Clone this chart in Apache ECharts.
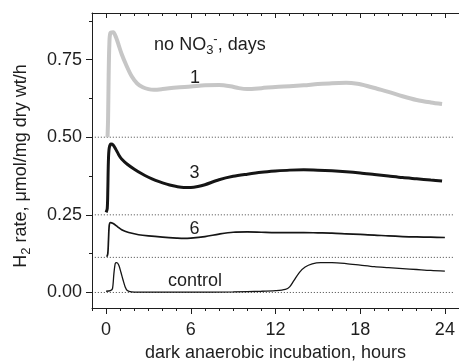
<!DOCTYPE html>
<html><head><meta charset="utf-8">
<script src="https://cdn.jsdelivr.net/npm/echarts@6/dist/echarts.min.js"></script>
<style>html,body{margin:0;padding:0;background:#fff}#c{width:459px;height:364px}</style>
</head><body><div id="c"></div>
<script>
// ---- data ----
const xTickLabels = [0, 6, 12, 18, 24];
const yTickLabels = [0, 0.25, 0.5, 0.75];
const yMinorTicks = [0.125, 0.375, 0.625, 0.875];
const xMinorTicks = [];
for (let h = -1; h <= 25; h++) { if (h % 6 !== 0) xMinorTicks.push(h); }

const day1 = [[0.1,0.50],[0.14,0.56],[0.18,0.70],[0.23,0.80],[0.3,0.835],[0.5,0.838],[0.7,0.822],[0.9,0.795],[1.1,0.768],[1.4,0.735],[1.8,0.697],[2.2,0.673],[2.6,0.661],[3.0,0.655],[3.4,0.653],[4.0,0.655],[5.0,0.660],[6.0,0.663],[7.0,0.667],[8.0,0.668],[8.8,0.664],[9.4,0.658],[10.0,0.655],[11.0,0.658],[12.0,0.662],[13.0,0.664],[14.0,0.667],[15.0,0.671],[16.0,0.674],[17.0,0.675],[17.8,0.672],[18.5,0.665],[19.2,0.656],[20.0,0.646],[21.0,0.632],[22.0,0.620],[23.0,0.612],[23.8,0.607]];
const day3 = [[0.0,0.258],[0.08,0.27],[0.12,0.33],[0.16,0.42],[0.22,0.465],[0.35,0.478],[0.5,0.475],[0.7,0.46],[0.9,0.443],[1.1,0.43],[1.5,0.413],[2.0,0.397],[2.5,0.383],[3.0,0.371],[3.5,0.361],[4.0,0.353],[4.5,0.346],[5.0,0.341],[5.5,0.338],[6.0,0.338],[6.5,0.341],[7.0,0.347],[8.0,0.363],[9.0,0.374],[10.0,0.381],[11.0,0.387],[12.0,0.391],[13.0,0.394],[14.0,0.395],[15.0,0.394],[16.0,0.392],[17.0,0.389],[18.0,0.385],[19.0,0.380],[20.0,0.375],[21.0,0.370],[22.0,0.366],[23.0,0.362],[23.8,0.359]];
const day6 = [[0.05,0.115],[0.12,0.125],[0.17,0.17],[0.22,0.215],[0.3,0.225],[0.5,0.222],[0.8,0.212],[1.1,0.202],[1.6,0.193],[2.3,0.186],[3.0,0.182],[4.0,0.178],[5.0,0.175],[5.5,0.174],[6.0,0.175],[7.0,0.180],[8.0,0.188],[9.0,0.194],[10.0,0.195],[11.0,0.194],[12.0,0.193],[13.0,0.193],[14.0,0.193],[15.0,0.192],[16.0,0.191],[17.0,0.189],[18.0,0.187],[19.0,0.185],[20.0,0.182],[21.0,0.180],[22.0,0.179],[23.0,0.178],[24.0,0.177]];
const control = [[0.0,0.004],[0.3,0.006],[0.45,0.012],[0.55,0.06],[0.65,0.094],[0.75,0.096],[0.9,0.088],[1.05,0.065],[1.2,0.04],[1.35,0.018],[1.5,0.006],[1.8,0.002],[3,0.001],[6,0.001],[9,0.002],[11,0.004],[12,0.006],[12.7,0.01],[13.0,0.018],[13.3,0.038],[13.7,0.065],[14.1,0.082],[14.6,0.092],[15.2,0.096],[16,0.096],[17,0.093],[18,0.088],[19,0.083],[20,0.080],[21,0.077],[22,0.074],[23,0.071],[24,0.069]];

const refLevels = [0.5, 0.25, 0.113, 0];
const refSpan = [-0.8, 24.7];

const curveLabels = [
  {text: '1', x: 6.3, y: 0.69},
  {text: '3', x: 6.26, y: 0.385},
  {text: '6', x: 6.26, y: 0.204},
  {text: 'control', x: 6.3, y: 0.036}
];
const headerPos = {x: 3.4, y: 0.798};

// ---- chart ----
const FONT = "'Liberation Sans', Arial, sans-serif";
const FS = 18;
const INK = '#1e1e1e';
const chart = echarts.init(document.getElementById('c'), null, {renderer: 'canvas'});

const axLine = {show: true, onZero: false, lineStyle: {color: INK, width: 1}};
const noLine = {show: false, onZero: false};
function tick(vals, len, inside) { return {show: true, customValues: vals, length: len, inside: !!inside, lineStyle: {color: INK, width: 1}}; }

const refSeries = refLevels.map(v => ({
  type: 'line', xAxisIndex: 0, yAxisIndex: 0, silent: true, symbol: 'none', z: 1,
  data: [[refSpan[0], v], [refSpan[1], v]],
  lineStyle: {color: '#444', width: 1, type: [1, 2]}
}));

function curve(data, color, width) {
  return {type: 'line', xAxisIndex: 0, yAxisIndex: 0, data: data, symbol: 'none', smooth: 0.3, z: 3,
    lineStyle: {color: color, width: width}};
}

chart.setOption({
  animation: false,
  backgroundColor: '#fff',
  textStyle: {fontFamily: FONT},
  grid: {left: 92, top: 13, right: 0, bottom: 56, containLabel: false, outerBoundsMode: 'none'},
  xAxis: [
    {type: 'value', min: -1, max: 25, position: 'bottom', axisLine: axLine, axisTick: tick(xTickLabels, 6),
     axisLabel: {customValues: xTickLabels, fontSize: FS, margin: 13, color: INK, fontFamily: FONT},
     splitLine: {show: false}, name: 'dark anaerobic incubation, hours', nameLocation: 'middle', nameGap: 34,
     nameTextStyle: {fontSize: FS, color: INK, fontFamily: FONT}},
    {type: 'value', min: -1, max: 25, position: 'bottom', axisLine: noLine, axisTick: tick(xMinorTicks, 3),
     axisLabel: {show: false}, splitLine: {show: false}},
    {type: 'value', min: -1, max: 25, position: 'top', axisLine: axLine, axisTick: tick(xTickLabels, 5, true),
     axisLabel: {show: false}, splitLine: {show: false}},
    {type: 'value', min: -1, max: 25, position: 'top', axisLine: noLine, axisTick: tick(xMinorTicks, 3, true),
     axisLabel: {show: false}, splitLine: {show: false}}
  ],
  yAxis: [
    {type: 'value', min: -0.05, max: 0.9, position: 'left', axisLine: axLine, axisTick: tick(yTickLabels, 6),
     axisLabel: {customValues: yTickLabels, fontSize: FS, margin: 10, color: INK, fontFamily: FONT,
       formatter: v => v.toFixed(2)}, splitLine: {show: false}},
    {type: 'value', min: -0.05, max: 0.9, position: 'left', axisLine: noLine, axisTick: tick(yMinorTicks, 3),
     axisLabel: {show: false}, splitLine: {show: false}}
  ],
  series: refSeries.concat([
    curve(day1, '#c6c6c6', 4),
    curve(day3, '#151515', 3),
    curve(day6, '#151515', 1.7),
    curve(control, '#151515', 1.3)
  ])
});

// ---- annotations ----
const toPx = p => chart.convertToPixel({xAxisIndex: 0, yAxisIndex: 0}, [p.x, p.y]);
const graphics = curveLabels.map(l => {
  const p = toPx(l);
  return {type: 'text', x: p[0], y: p[1], z: 10,
    style: {text: l.text, fontSize: FS, fontFamily: FONT, fill: INK, align: 'center', verticalAlign: 'middle'}};
});
const hp = toPx(headerPos);
graphics.push({type: 'text', x: hp[0], y: hp[1], z: 10,
  style: {text: '{t|no NO}{s|3}{p|-}{t|, days}', align: 'left', verticalAlign: 'middle', fill: INK,
    rich: {
      t: {fontSize: FS, fontFamily: FONT, fill: INK},
      s: {fontSize: 13, fontFamily: FONT, fill: INK, padding: [11, 0, 0, 0]},
      p: {fontSize: 13, fontFamily: FONT, fill: INK, padding: [0, 0, 11, 0]}
    }}});
graphics.push({type: 'text', x: 21, y: 166, rotation: Math.PI / 2, z: 10,
  style: {text: '{t|H}{s|2}{t| rate, μmol/mg dry wt/h}', align: 'center', verticalAlign: 'middle', fill: INK,
    rich: {
      t: {fontSize: FS, fontFamily: FONT, fill: INK},
      s: {fontSize: 13, fontFamily: FONT, fill: INK, padding: [10, 0, 0, 0]}
    }}});
chart.setOption({graphic: graphics});
</script>
</body></html>
